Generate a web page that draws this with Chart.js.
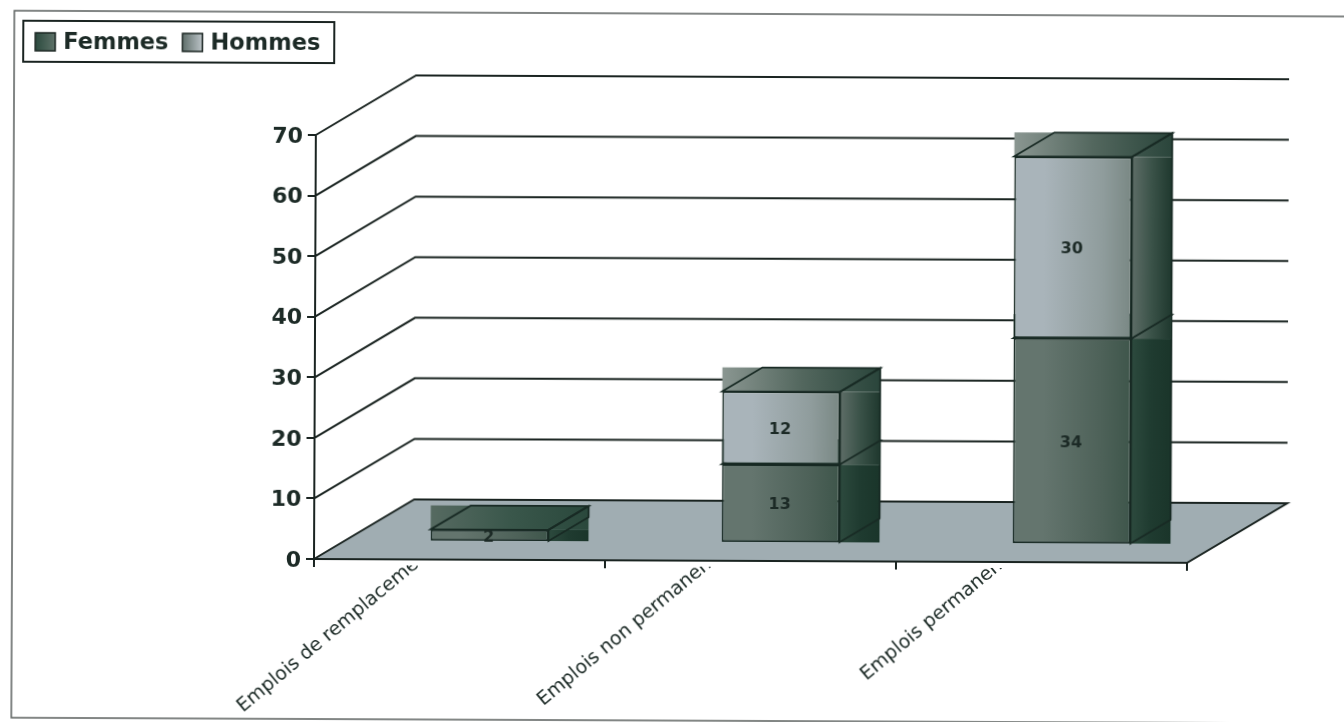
<!DOCTYPE html>
<html lang="fr">
<head>
<meta charset="utf-8">
<title>Emplois</title>
<script src="https://cdn.jsdelivr.net/npm/chart.js@4"></script>
<style>
  html, body { margin: 0; padding: 0; background: #fff; overflow: hidden; }
  /* whole sheet sits very slightly askew */
  #chart { display: block; transform: rotate(0.25deg); transform-origin: 313px 559px; }
</style>
</head>
<body>
<canvas id="chart" width="1344" height="722"></canvas>
<script>
// Chart data
const categories = ["Emplois de remplacement", "Emplois non permanents", "Emplois permanents"];
const femmes = [2, 13, 34];
const hommes = [0, 12, 30];

// Depth of the fake 3D box
const floorDepth = { x: 100, y: -60 };
const barInset = { x: 30, y: -18 };
const barDepth = { x: 40, y: -24 };
const inkColor = "#1c2a26";
const lineColor = "#1a2421";

// Shades per series: front face, top band, side band
const shades = [
  {
    front: ["#64756e", "#4d6158", "#2f4a3d"],
    top: ["#566a61", "#3a574b", "#2a483c"],
    side: ["#2d4a3e", "#1f3b30", "#1a352a"],
  },
  {
    front: ["#a9b4ba", "#8f9c9c", "#62726a"],
    top: ["#8a9691", "#53675e", "#2a453b"],
    side: ["#5e6d67", "#3a5248", "#1f382e"],
  },
];

function horizontalGradient(ctx, x0, x1, colors) {
  const g = ctx.createLinearGradient(x0, 0, x1, 0);
  colors.forEach((c, i) => g.addColorStop(i / (colors.length - 1), c));
  return g;
}

function polygon(ctx, points) {
  ctx.beginPath();
  points.forEach(([x, y], i) => (i ? ctx.lineTo(x, y) : ctx.moveTo(x, y)));
  ctx.closePath();
}

// Front face gradient follows each bar, so it needs the bar's position from a first layout
function frontFill(context) {
  const el = context.chart.getDatasetMeta(context.datasetIndex).data[context.dataIndex];
  if (!el || !el.width) return shades[context.datasetIndex].front[0];
  return horizontalGradient(
    context.chart.ctx,
    el.x - el.width / 2 + barInset.x,
    el.x + el.width / 2 + barInset.x,
    shades[context.datasetIndex].front
  );
}

function drawFrame(ctx) {
  ctx.save();
  ctx.strokeStyle = "#5a5f5d";
  ctx.lineWidth = 1.5;
  ctx.strokeRect(12, 12, 1400, 707);
  ctx.restore();
}

function drawLegend(chart) {
  const ctx = chart.ctx;
  ctx.save();
  ctx.fillStyle = "#fff";
  ctx.strokeStyle = lineColor;
  ctx.lineWidth = 2;
  ctx.fillRect(21, 22, 311, 41);
  ctx.strokeRect(21, 22, 311, 41);

  ctx.font = "bold 22.5px 'DejaVu Sans'";
  ctx.textBaseline = "middle";
  ctx.textAlign = "left";
  const swatches = [["#2b4a3e", "#5f7269"], ["#5f6e6a", "#bcc4c8"]];
  let x = 33;
  chart.data.datasets.forEach((ds, i) => {
    ctx.fillStyle = horizontalGradient(ctx, x, x + 20, swatches[i]);
    ctx.fillRect(x, 34, 20, 18);
    ctx.lineWidth = 1.5;
    ctx.strokeRect(x, 34, 20, 18);
    ctx.fillStyle = inkColor;
    ctx.fillText(ds.label, x + 28, 44);
    x += 28 + ctx.measureText(ds.label).width + 14;
  });
  ctx.restore();
}

// Floor and back wall lines, taken from the value axis
function drawWalls(chart) {
  const ctx = chart.ctx;
  const { left, right } = chart.chartArea;
  const yScale = chart.scales.y;
  const y0 = yScale.getPixelForValue(0);

  ctx.save();
  polygon(ctx, [
    [left, y0],
    [left + floorDepth.x, y0 + floorDepth.y],
    [right + floorDepth.x, y0 + floorDepth.y],
    [right, y0],
  ]);
  ctx.fillStyle = "#a0adb2";
  ctx.fill();
  ctx.strokeStyle = lineColor;
  ctx.lineWidth = 2;
  ctx.stroke();

  yScale.ticks.forEach((tick) => {
    if (tick.value === 0) return;
    const y = yScale.getPixelForValue(tick.value);
    ctx.beginPath();
    ctx.moveTo(left, y);
    ctx.lineTo(left + floorDepth.x, y + floorDepth.y);
    ctx.lineTo(right + floorDepth.x, y + floorDepth.y);
    ctx.stroke();
  });
  ctx.restore();
}

// Top and side of a bar segment, painted over their bounding box
function drawBarBox(chart, datasetIndex) {
  const ctx = chart.ctx;
  const shade = shades[datasetIndex];
  chart.getDatasetMeta(datasetIndex).data.forEach((el) => {
    if (el.base === el.y) return;
    const x0 = el.x - el.width / 2 + barInset.x;
    const x1 = el.x + el.width / 2 + barInset.x;
    const top = el.y + barInset.y;
    const bottom = el.base + barInset.y;
    const backTop = top + barDepth.y;
    const backRight = x1 + barDepth.x;

    ctx.save();
    ctx.fillStyle = horizontalGradient(ctx, x0, backRight, shade.top);
    ctx.fillRect(x0, backTop, backRight - x0, top - backTop);
    ctx.fillStyle = horizontalGradient(ctx, x1, backRight, shade.side);
    ctx.fillRect(x1, top, barDepth.x, bottom - top);

    ctx.strokeStyle = "#182a24";
    ctx.lineWidth = 1.8;
    polygon(ctx, [
      [x0, top],
      [x0 + barDepth.x, backTop],
      [backRight, backTop],
      [x1, top],
    ]);
    ctx.stroke();
    polygon(ctx, [
      [x1, top],
      [backRight, backTop],
      [backRight, bottom + barDepth.y],
      [x1, bottom],
    ]);
    ctx.stroke();
    ctx.restore();
  });
}

function drawBarLabels(chart) {
  const ctx = chart.ctx;
  ctx.save();
  ctx.font = "bold 16px 'DejaVu Sans'";
  ctx.textAlign = "center";
  ctx.textBaseline = "middle";
  ctx.fillStyle = inkColor;
  chart.data.datasets.forEach((ds, i) => {
    chart.getDatasetMeta(i).data.forEach((el, j) => {
      if (!ds.data[j]) return;
      ctx.fillText(ds.data[j], el.x + barInset.x - 1, (el.y + el.base) / 2 + barInset.y + 2);
    });
  });
  ctx.restore();
}

// Slanted category labels, cut off just under the axis
function drawCategoryLabels(chart) {
  const ctx = chart.ctx;
  const xScale = chart.scales.x;
  const y0 = chart.scales.y.getPixelForValue(0);
  ctx.save();
  ctx.beginPath();
  ctx.rect(0, y0 + 6, chart.width, chart.height);
  ctx.clip();
  ctx.font = "19px 'DejaVu Sans'";
  ctx.textAlign = "right";
  ctx.textBaseline = "alphabetic";
  ctx.fillStyle = inkColor;
  xScale.getLabels().forEach((label, i) => {
    ctx.save();
    ctx.translate(xScale.getPixelForTick(i) - 25, y0 - 6);
    ctx.rotate((-40 * Math.PI) / 180);
    ctx.fillText(label, 0, 0);
    ctx.restore();
  });
  ctx.restore();
}

const box3d = {
  id: "box3d",
  beforeDraw(chart) {
    drawFrame(chart.ctx);
  },
  beforeDatasetsDraw(chart) {
    drawWalls(chart);
  },
  // the stock pass paints the last series first, here the stack has to go bottom up
  beforeDatasetDraw() {
    return false;
  },
  afterDatasetsDraw(chart) {
    chart.data.datasets.forEach((ds, i) => {
      drawBarBox(chart, i);
      chart.ctx.save();
      chart.ctx.translate(barInset.x, barInset.y);
      chart.getDatasetMeta(i).controller.draw();
      chart.ctx.restore();
    });
    drawBarLabels(chart);
  },
  afterDraw(chart) {
    drawCategoryLabels(chart);
    drawLegend(chart);
  },
};

const barStyle = {
  backgroundColor: frontFill,
  borderColor: "#182a24",
  borderWidth: 1.8,
  borderSkipped: false,
};

const chart = new Chart(document.getElementById("chart").getContext("2d"), {
  type: "bar",
  data: {
    labels: categories,
    datasets: [
      { label: "Femmes", data: femmes, ...barStyle },
      { label: "Hommes", data: hommes, ...barStyle },
    ],
  },
  options: {
    responsive: false,
    animation: false,
    layout: { padding: { left: 0, top: 135, right: 157, bottom: 163 } },
    datasets: { bar: { categoryPercentage: 1, barPercentage: 0.405 } },
    plugins: {
      legend: { display: false },
      tooltip: { enabled: false },
    },
    scales: {
      x: {
        stacked: true,
        afterFit: (scale) => { scale.height = 0; },
        ticks: { display: false },
        grid: { drawOnChartArea: false, tickLength: 8, color: lineColor, lineWidth: 2 },
        border: { color: lineColor, width: 2 },
      },
      y: {
        stacked: true,
        min: 0,
        max: 70,
        afterFit: (scale) => { scale.width = 314; },
        ticks: {
          stepSize: 10,
          padding: 5,
          labelOffset: 2,
          color: inkColor,
          font: { family: "'DejaVu Sans'", size: 22, weight: "bold" },
        },
        grid: { drawOnChartArea: false, tickLength: 8, color: lineColor, lineWidth: 2 },
        border: { color: lineColor, width: 2 },
      },
    },
  },
  plugins: [box3d],
});

// second pass so the front gradients see the laid out bars
chart.update();
</script>
</body>
</html>
